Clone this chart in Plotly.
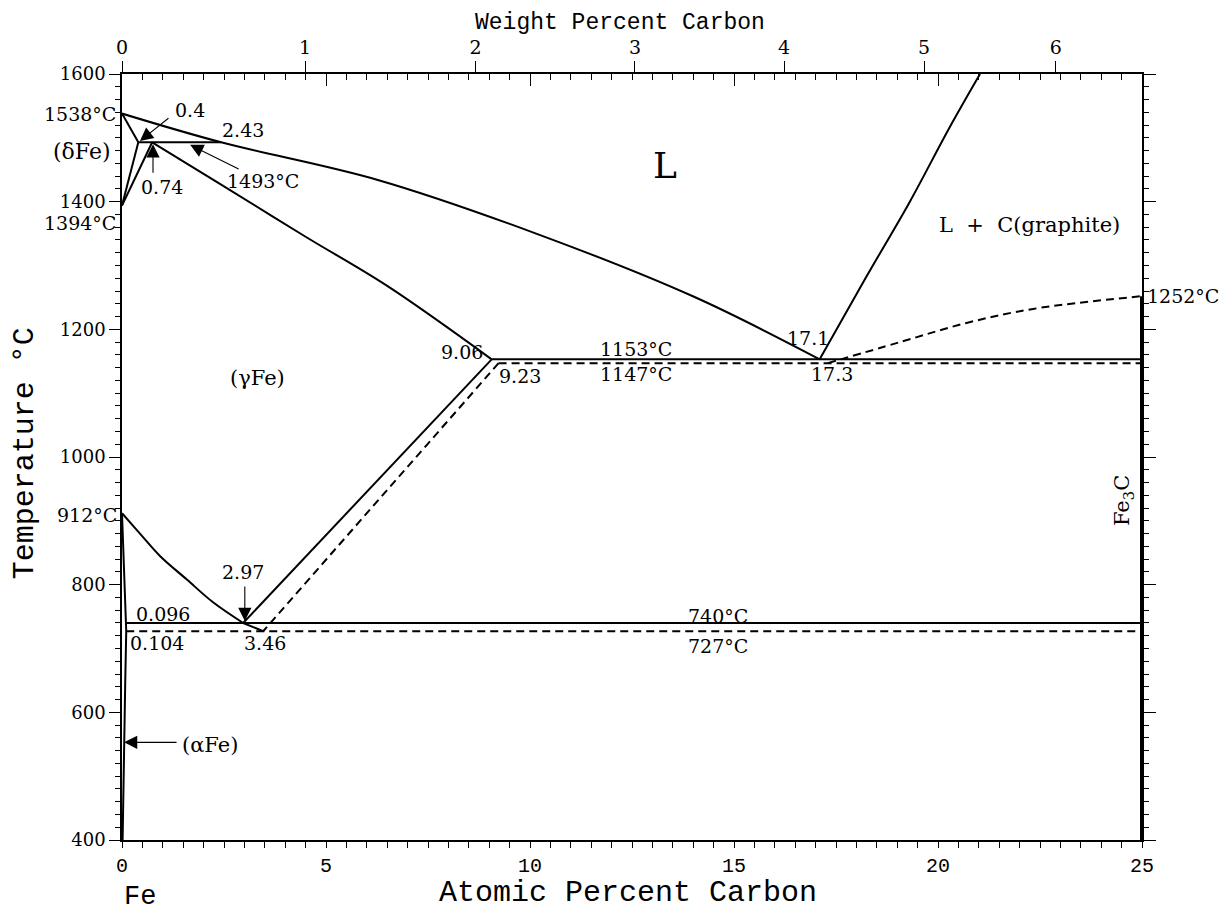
import plotly.graph_objects as go

# ---------------- data (atomic % C, temperature °C) ----------------
liq_x = [0, 2.43, 6.27, 10.15, 14.02, 17.1]
liq_T = [1538, 1493, 1434, 1350, 1251, 1153]

delta_sol_x = [0, 0.4]
delta_sol_T = [1538, 1493]
delta_solvus_x = [0.4, 0]
delta_solvus_T = [1493, 1394]
gamma_delta_x = [0, 0.74]
gamma_delta_T = [1394, 1493]
peritectic_x = [0.4, 2.43]
peritectic_T = [1493, 1493]

gamma_sol_x = [0.74, 2.4, 4.5, 6.5, 9.06]
gamma_sol_T = [1493, 1428, 1345, 1268, 1153]

eutectic_x = [9.06, 25]
eutectic_T = [1153, 1153]
eutectic_meta_x = [9.23, 25]
eutectic_meta_T = [1147, 1147]

acm_x = [9.06, 2.97]
acm_T = [1153, 740]
acm_meta_x = [9.23, 3.46]
acm_meta_T = [1147, 727]

a3_x = [0, 0.44, 0.93, 1.59, 2.24, 2.97]
a3_T = [912, 880, 845, 808, 772, 740]
a3_meta_x = [2.97, 3.46]
a3_meta_T = [740, 727]

eutectoid_x = [0.096, 25]
eutectoid_T = [740, 740]
eutectoid_meta_x = [0.104, 25]
eutectoid_meta_T = [727, 727]

alpha_x = [0, 0.096, 0.104, 0.08, 0.055, 0.03, 0.015]
alpha_T = [912, 740, 727, 650, 550, 450, 400]

graphite_liq_x = [17.1, 18.25, 19.31, 20.29, 21.03]
graphite_liq_T = [1153, 1283, 1400, 1517, 1600]

cementite_liq_x = [17.3, 19.07, 20.70, 22.33, 25]
cementite_liq_T = [1147, 1180, 1210, 1232, 1252]

fe3c_x = [25, 25]
fe3c_T = [400, 1252]

wt_ticks = [0, 1, 2, 3, 4, 5, 6]


def at_from_wt(w):
    c = w / 12.011
    fe = (100 - w) / 55.845
    return 100 * c / (c + fe)


SERIF = "DejaVu Serif"
MONO = "Liberation Mono"
NB = "\u00a0"

fig = go.Figure()


def add_line(x, y, dash=None, width=2, shape="linear"):
    line = dict(color="black", width=width, dash=dash, shape=shape)
    if shape == "spline":
        line["smoothing"] = 1.0
    fig.add_trace(go.Scatter(x=x, y=y, mode="lines", showlegend=False,
                             hoverinfo="skip", line=line))


DASH = "8px,5px"
add_line(liq_x, liq_T, shape="spline")
add_line(delta_sol_x, delta_sol_T)
add_line(delta_solvus_x, delta_solvus_T)
add_line(gamma_delta_x, gamma_delta_T)
add_line(peritectic_x, peritectic_T)
add_line(gamma_sol_x, gamma_sol_T, shape="spline")
add_line(eutectic_x, eutectic_T)
add_line(eutectic_meta_x, eutectic_meta_T, dash=DASH)
add_line(acm_x, acm_T)
add_line(acm_meta_x, acm_meta_T, dash=DASH)
add_line(a3_x, a3_T, shape="spline")
add_line(a3_meta_x, a3_meta_T)
add_line(eutectoid_x, eutectoid_T)
add_line(eutectoid_meta_x, eutectoid_meta_T, dash=DASH)
add_line(alpha_x, alpha_T)
add_line(graphite_liq_x, graphite_liq_T, shape="spline")
add_line(cementite_liq_x, cementite_liq_T, dash=DASH, shape="spline")
add_line(fe3c_x, fe3c_T, width=4)

# invisible traces so the extra axes are drawn
for xa, ya in (("x2", "y"), ("x3", "y"), ("x", "y2")):
    fig.add_trace(go.Scatter(x=[0], y=[400], xaxis=xa, yaxis=ya, mode="markers",
                             marker=dict(opacity=0), showlegend=False, hoverinfo="skip"))

ann = []


def label(text, x, y, size=19, font=SERIF, xanchor="center", yanchor="middle",
          xref="x", yref="y", xshift=0, yshift=0, angle=0):
    ann.append(dict(text=text, x=x, y=y, xref=xref, yref=yref, showarrow=False,
                    xanchor=xanchor, yanchor=yanchor, xshift=xshift, yshift=yshift,
                    textangle=angle, font=dict(family=font, size=size, color="black")))


def arrow(x, y, ax, ay):
    ann.append(dict(text="", x=x, y=y, xref="x", yref="y", ax=ax, ay=ay,
                    showarrow=True, arrowhead=2, arrowsize=2.4, arrowwidth=1.1,
                    arrowcolor="black", standoff=0))


label("1538°C", 0, 1538, xref="paper", xanchor="right", xshift=-4)
label("(δFe)", 0, 1478, size=22, xref="paper", xanchor="right", xshift=-9)
label("1394°C", 0, 1367, xref="paper", xanchor="right", xshift=-4)
label("912°C", 0, 909, xref="paper", xanchor="right", xshift=-3)
label("0.4", 1.25, 1544, xanchor="left")
arrow(0.44, 1495, 30, -24)
label("2.43", 2.97, 1512)
label("1493°C", 3.46, 1432)
arrow(1.67, 1489, 50, 25)
label("0.74", 0.98, 1423)
arrow(0.76, 1490, 0, 30)
label("L", 13.31, 1456, size=36)
label("L" + NB * 2 + "+" + NB * 2 + "C(graphite)", 22.25, 1363, size=21)
label("1252°C", 1, 1252, xref="paper", xanchor="left", xshift=3)
label("17.1", 16.81, 1186)
label("17.3", 17.4, 1130)
label("1153°C", 12.6, 1169)
label("1147°C", 12.6, 1130)
label("9.06", 8.33, 1164)
label("9.23", 9.75, 1127)
label("(γFe)", 3.33, 1124, size=21)
label("2.97", 2.97, 820)
arrow(3.01, 743, 0, -36)
label("0.096", 1.0, 754)
label("0.104", 0.86, 709)
label("3.46", 3.5, 709)
label("740°C", 14.6, 751)
label("727°C", 14.6, 704)
label("(αFe)", 2.16, 549, size=21)
arrow(0.05, 553, 54, 0)
label("Fe<sub>3</sub>C", 24.55, 932, size=21, angle=-90)
label("Fe", 0.44, -0.0744, size=27, font=MONO, yref="paper")
label("Weight Percent Carbon", 12.2, 1.0862, size=23, font=MONO, yref="paper",
      yanchor="top")
label("Atomic Percent Carbon", 12.4, -0.0692, size=30, font=MONO, yref="paper")
label("Temperature °C", -0.0951, 1006, size=30, font=MONO, xref="paper", angle=-90)

axis_common = dict(showgrid=False, zeroline=False, showline=True, linecolor="black",
                   linewidth=1.5, tickcolor="black", tickwidth=1)

# page body adds an 8px offset: figure is shrunk so the plot area lands at the reference spot
fig.update_layout(
    width=1220, height=904,
    margin=dict(l=114, r=86, t=66, b=72),
    paper_bgcolor="white", plot_bgcolor="white",
    annotations=ann,
    xaxis=dict(range=[0, 25], ticks="outside", ticklen=6, dtick=5, tick0=0,
               minor=dict(dtick=0.5, ticklen=6, ticks="outside", tickcolor="black"),
               tickfont=dict(family=MONO, size=20, color="black"), **axis_common),
    xaxis2=dict(range=[0, 25], overlaying="x", side="top", anchor="y",
                tickmode="array", tickvals=[at_from_wt(w) for w in wt_ticks],
                ticktext=[str(w) for w in wt_ticks], ticks="outside", ticklen=11,
                tickfont=dict(family=SERIF, size=19, color="black"), **axis_common),
    xaxis3=dict(range=[0, 25], overlaying="x", side="top", anchor="y",
                ticks="inside", ticklen=12, dtick=5, tick0=0, showticklabels=False,
                minor=dict(dtick=0.5, ticklen=6, ticks="inside", tickcolor="black"),
                **axis_common),
    yaxis=dict(range=[400, 1600], ticks="outside", ticklen=11, dtick=200, tick0=400,
               minor=dict(dtick=20, ticklen=5, ticks="outside", tickcolor="black"),
               tickfont=dict(family=SERIF, size=18, color="black"), **axis_common),
    yaxis2=dict(range=[400, 1600], overlaying="y", side="right", anchor="x",
                ticks="outside", ticklen=12, dtick=200, tick0=400, showticklabels=False,
                minor=dict(dtick=20, ticklen=5, ticks="outside", tickcolor="black"),
                **axis_common),
)

fig.write_html("out.html")
